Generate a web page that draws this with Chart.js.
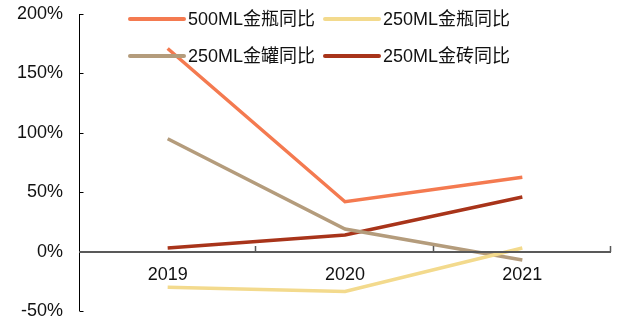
<!DOCTYPE html>
<html>
<head>
<meta charset="utf-8">
<script src="https://cdn.jsdelivr.net/npm/chart.js@4/dist/chart.umd.min.js"></script>
<style>
  html, body { margin: 0; padding: 0; background: #fff; }
  #wrap { width: 619px; height: 324px; position: relative; }
</style>
</head>
<body>
<div id="wrap"><canvas id="c"></canvas></div>
<script>
const categories = ['2019', '2020', '2021'];
const seriesNames = ['500ML金瓶同比', '250ML金瓶同比', '250ML金罐同比', '250ML金砖同比'];
const gold500Bottle = [171, 42, 62.5];
const gold250Bottle = [-30, -33.5, 3];
const gold250Can = [95, 19, -7];
const gold250Brick = [3, 14, 46];
const yTicks = [-50, 0, 50, 100, 150, 200];

const colors = ['#F47A50', '#F3DA8D', '#B49C7C', '#A8341A'];
const FONT = '"Liberation Sans", Arial, "Noto Sans CJK SC", sans-serif';

const axesPlugin = {
  id: 'axesPlugin',
  afterDatasetsDraw(chart) {
    const ctx = chart.ctx;
    const xs = chart.scales.x, ys = chart.scales.y;
    const area = chart.chartArea;
    ctx.save();
    ctx.strokeStyle = '#000';
    ctx.lineWidth = 1;
    const ax = Math.round(area.left) + 0.5;
    ctx.beginPath();
    ctx.moveTo(ax, ys.getPixelForValue(yTicks[yTicks.length - 1]));
    ctx.lineTo(ax, ys.getPixelForValue(yTicks[0]));
    yTicks.forEach(v => {
      const py = Math.round(ys.getPixelForValue(v)) + 0.5;
      ctx.moveTo(ax, py);
      ctx.lineTo(ax + 4, py);
    });
    ctx.stroke();
    const y0 = Math.round(ys.getPixelForValue(0));
    ctx.strokeStyle = '#595959';
    ctx.lineWidth = 2;
    ctx.beginPath();
    ctx.moveTo(area.left, y0);
    ctx.lineTo(area.right, y0);
    ctx.stroke();
    ctx.lineWidth = 1.5;
    ctx.beginPath();
    const n = categories.length;
    for (let i = 1; i <= n; i++) {
      const px = Math.round(xs.left + (xs.right - xs.left) * i / n) - 0.5;
      ctx.moveTo(px, y0);
      ctx.lineTo(px, y0 - 6);
    }
    ctx.stroke();
    ctx.restore();
  },
  afterDraw(chart) {
    const ctx = chart.ctx;
    ctx.save();
    const rows = [19, 56];
    const cols = [130, 325];
    const lineLen = 54;
    ctx.font = '18px ' + FONT;
    ctx.textBaseline = 'middle';
    chart.data.datasets.forEach((ds, i) => {
      const r = Math.floor(i / 2), c = i % 2;
      const x = cols[c], y = rows[r];
      ctx.strokeStyle = ds.borderColor;
      ctx.lineWidth = 4;
      ctx.lineCap = 'round';
      ctx.beginPath();
      ctx.moveTo(x, y);
      ctx.lineTo(x + lineLen, y);
      ctx.stroke();
      ctx.fillStyle = '#111';
      ctx.fillText(ds.label, x + lineLen + 4, y + 1);
    });
    ctx.restore();
  }
};

const seriesData = [gold500Bottle, gold250Bottle, gold250Can, gold250Brick];

new Chart(document.getElementById('c'), {
  type: 'line',
  data: {
    labels: categories,
    datasets: seriesNames.map((name, i) => ({
      label: name,
      data: seriesData[i],
      borderColor: colors[i],
      backgroundColor: colors[i],
      borderWidth: 3.5,
      pointRadius: 0,
      tension: 0,
      fill: false
    }))
  },
  options: {
    responsive: true,
    maintainAspectRatio: false,
    animation: false,
    layout: { padding: { top: 14, right: 8, bottom: 13, left: 0 } },
    plugins: {
      legend: { display: false },
      tooltip: { enabled: false }
    },
    scales: {
      x: {
        type: 'category',
        offset: true,
        position: { y: 0 },
        grid: { display: false },
        border: { display: false },
        ticks: {
          padding: 5,
          color: '#111',
          font: { family: FONT, size: 18 }
        },
        afterFit(s) { s.height = 0; s.paddingLeft = 0; s.paddingRight = 0; s.paddingTop = 0; s.paddingBottom = 0; }
      },
      y: {
        min: -50,
        max: 200,
        afterBuildTicks(s) { s.ticks = yTicks.map(v => ({ value: v })); },
        grid: { display: false },
        border: { display: false },
        ticks: {
          padding: 8,
          color: '#111',
          font: { family: FONT, size: 18 },
          callback: v => v + '%'
        },
        afterFit(s) { s.width = 79; s.paddingTop = 0; s.paddingBottom = 0; s.paddingLeft = 0; s.paddingRight = 0; }
      }
    }
  },
  plugins: [axesPlugin]
});
</script>
</body>
</html>
